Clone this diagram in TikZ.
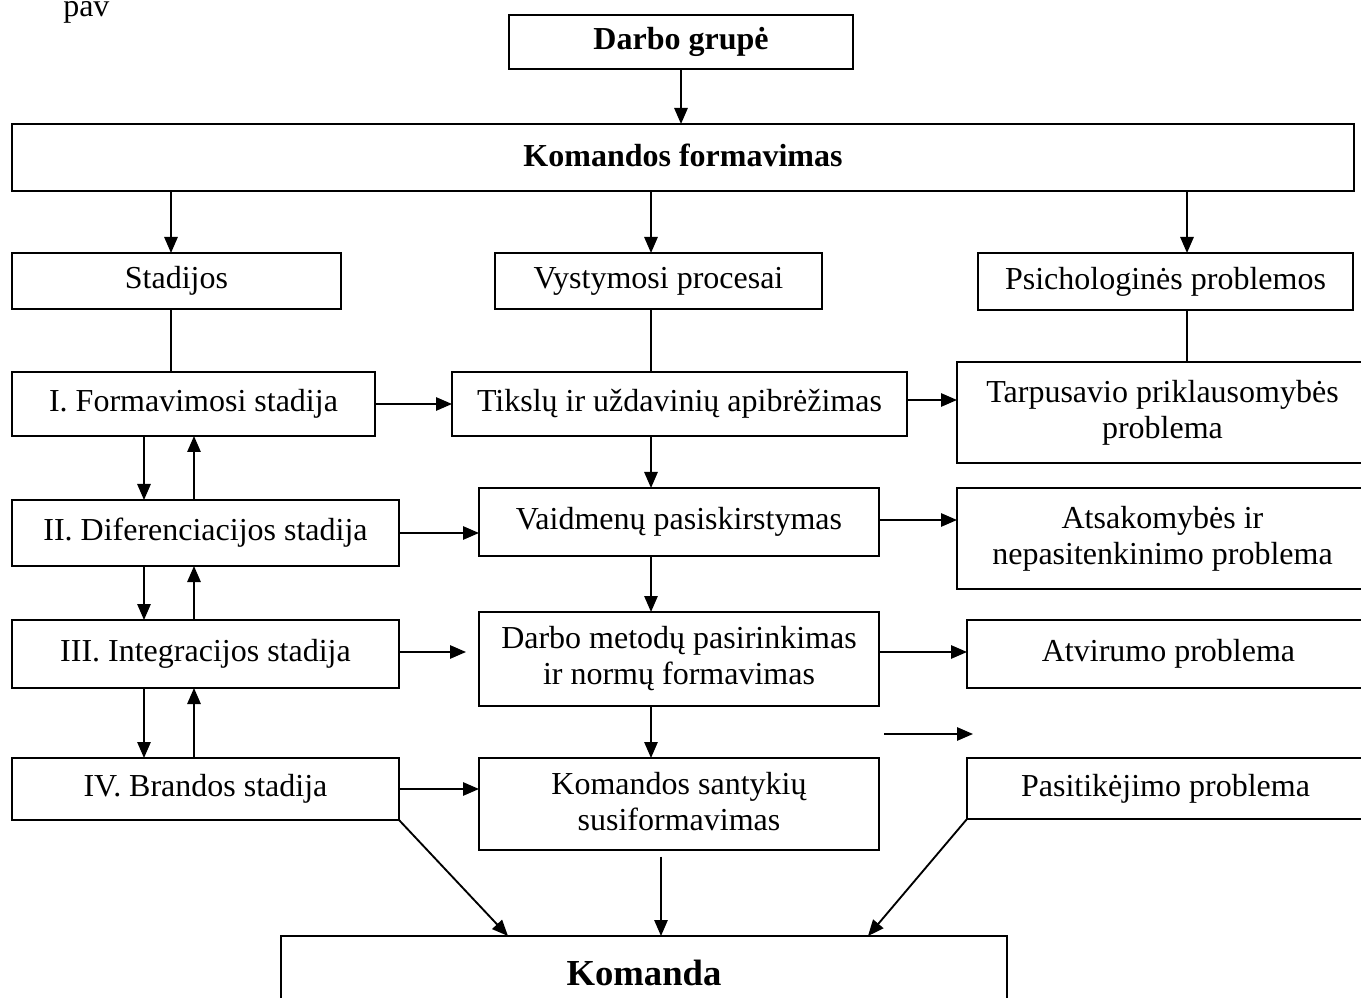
\documentclass[tikz,border=0pt]{standalone}
\usepackage{fontspec}
\setmainfont{Liberation Serif}
\usetikzlibrary{arrows.meta,calc}

% invisible strut that fixes the height and depth of a text line
\newcommand{\linestrut}{\rule[-4pt]{0pt}{19pt}}
% box from corner (x1,y1) to corner (x2,y2), pixel-like units, y downwards
\newcommand{\boxat}[6]{%
  \node[box, minimum width={(#4-#2)*0.75pt}, minimum height={(#5-#3)*0.75pt}]
    (#1) at ({(#2+#4)/2},{(#3+#5)/2}) {\linestrut#6\linestrut};}

\tikzset{
  box/.style={draw, line width=1.4pt, inner sep=0pt, outer sep=0pt,
    align=center, font=\fontsize{24}{27}\selectfont},
  arr/.style={line width=1.4pt, -{Triangle[length=12pt,width=10pt]}},
  link/.style={line width=1pt},
}

\begin{document}
\begin{tikzpicture}[x=0.75pt,y=-0.75pt]
\useasboundingbox[fill=white] (0,0) rectangle (1361,998);

\node[anchor=base west, inner sep=0pt, font=\fontsize{24}{27}\selectfont] (pav) at (63,17) {pav};

% column guides
\coordinate (colL) at (171,0);
\coordinate (colM) at (651,0);
\coordinate (colR) at (1187,0);
\coordinate (colDn) at (144,0);
\coordinate (colUp) at (194,0);

% top
\boxat{dg}{509}{15}{853}{69}{\textbf{Darbo grupė}}
\boxat{kf}{12}{124}{1354}{191}{\textbf{Komandos formavimas}}

% headings
\boxat{st}{12}{253}{341}{309}{Stadijos}
\boxat{vp}{495}{253}{822}{309}{Vystymosi procesai}
\boxat{pp}{978}{253}{1353}{310}{Psichologinės problemos}

% stages
\boxat{s1}{12}{372}{375}{436}{I. Formavimosi stadija}
\boxat{s2}{12}{500}{399}{566}{II. Diferenciacijos stadija}
\boxat{s3}{12}{620}{399}{688}{III. Integracijos stadija}
\boxat{s4}{12}{758}{399}{820}{IV. Brandos stadija}

% processes
\boxat{p1}{452}{372}{907}{436}{Tikslų ir uždavinių apibrėžimas}
\boxat{p2}{479}{488}{879}{556}{Vaidmenų pasiskirstymas}
\boxat{p3}{479}{612}{879}{706}{Darbo metodų pasirinkimas\\ir normų formavimas}
\boxat{p4}{479}{758}{879}{850}{Komandos santykių\\susiformavimas}

% problems
\boxat{q1}{957}{362}{1368}{463}{Tarpusavio priklausomybės\\problema}
\boxat{q2}{957}{488}{1368}{589}{Atsakomybės ir\\nepasitenkinimo problema}
\boxat{q3}{967}{620}{1370}{688}{Atvirumo problema}
\boxat{q4}{967}{758}{1364}{819}{Pasitikėjimo problema}

% result
\node[draw, line width=1.4pt, inner sep=0pt, outer sep=0pt,
  minimum width={726*0.75pt}, minimum height={74*0.75pt},
  font=\fontsize{27.5}{32}\selectfont\bfseries] (ko) at (644,973) {Komanda};

% top arrows
\draw[arr] (dg.south) -- (dg.south |- kf.north);
\draw[arr] (kf.south -| colL) -- (st.north -| colL);
\draw[arr] (kf.south -| colM) -- (vp.north -| colM);
\draw[arr] (kf.south -| colR) -- (pp.north -| colR);

% heading links
\draw[link] (st.south -| colL) -- (s1.north -| colL);
\draw[link] (vp.south -| colM) -- (p1.north -| colM);
\draw[link] (pp.south -| colR) -- (q1.north -| colR);

% stage transitions
\draw[arr] (s1.south -| colDn) -- (s2.north -| colDn);
\draw[arr] (s2.north -| colUp) -- (s1.south -| colUp);
\draw[arr] (s2.south -| colDn) -- (s3.north -| colDn);
\draw[arr] (s3.north -| colUp) -- (s2.south -| colUp);
\draw[arr] (s3.south -| colDn) -- (s4.north -| colDn);
\draw[arr] (s4.north -| colUp) -- (s3.south -| colUp);

% stages to processes
\draw[arr] (s1.east) -- (s1.east -| p1.west);
\draw[arr] (s2.east) -- (s2.east -| p2.west);
\draw[arr, shorten >=9.75pt] ([yshift=1.5pt]s3.east) -- ([yshift=1.5pt]s3.east -| p3.west);
\draw[arr] (s4.east) -- (s4.east -| p4.west);

% process chain
\draw[arr] (p1.south -| colM) -- (p2.north -| colM);
\draw[arr] (p2.south -| colM) -- (p3.north -| colM);
\draw[arr] (p3.south -| colM) -- (p4.north -| colM);

% processes to problems
\draw[arr] ([yshift=3pt]p1.east) -- ([yshift=3pt]p1.east -| q1.west);
\draw[arr] ([yshift=1.5pt]p2.east) -- ([yshift=1.5pt]p2.east -| q2.west);
\draw[arr] ([yshift=1.5pt]p3.east |- q3.west) -- ([yshift=1.5pt]q3.west);
\coordinate (fa) at (884,734);
\coordinate (fb) at (973,734);
\draw[arr] (fa) -- (fb);

% into the team
\draw[arr] (s4.south east) -- ($(ko.north west)+(227,0)$);
\draw[arr, shorten <=5pt] (p4.south -| 661,0) -- (ko.north -| 661,0);
\draw[arr] (q4.south west) -- ($(ko.north west)+(587,0)$);
\end{tikzpicture}
\end{document}
